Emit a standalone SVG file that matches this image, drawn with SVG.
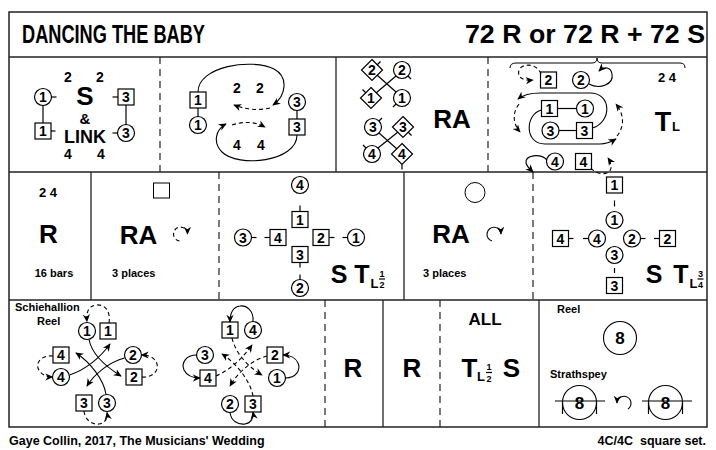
<svg xmlns="http://www.w3.org/2000/svg" width="716" height="450" viewBox="0 0 716 450">
<style>
.fr{fill:none;stroke:#222;stroke-width:1.5}
.dv{stroke:#222;stroke-width:1.3;fill:none}
.dd{stroke:#222;stroke-width:1.2;stroke-dasharray:7 5;fill:none}
.c,.s,.d{fill:#fff;stroke:#000;stroke-width:1.2}
.t{font-family:"Liberation Sans",Arial,Helvetica,sans-serif;font-weight:bold;fill:#000}
.n{font-size:14px;text-anchor:middle}
.m{text-anchor:middle}
.tk{stroke:#000;stroke-width:1.2}
.a{fill:none;stroke:#000;stroke-width:1.1;marker-end:url(#ah)}
.ad{fill:none;stroke:#000;stroke-width:1.1;stroke-dasharray:4 3;marker-end:url(#ah)}
.ln{stroke:#000;stroke-width:1.2}
</style>
<defs>
<marker id="ah" viewBox="0 0 10 10" refX="9" refY="5" markerWidth="8" markerHeight="8" markerUnits="userSpaceOnUse" orient="auto"><path d="M0,0.5 L10,5 L0,9.5 L3,5 z" fill="#000"/></marker>
</defs>
<rect width="716" height="450" fill="#fff"/>

<g id="frame">
<rect class="fr" x="9" y="12" width="698" height="415"/>
<line class="dv" x1="9" y1="57" x2="707" y2="57"/>
<line class="dv" x1="9" y1="172" x2="707" y2="172"/>
<line class="dv" x1="9" y1="300" x2="707" y2="300"/>
<line class="dd" x1="160" y1="57" x2="160" y2="172"/>
<line class="dv" x1="336" y1="57" x2="336" y2="172"/>
<line class="dd" x1="488" y1="57" x2="488" y2="172"/>
<line class="dv" x1="91" y1="172" x2="91" y2="300"/>
<line class="dd" x1="219" y1="172" x2="219" y2="300"/>
<line class="dv" x1="404" y1="172" x2="404" y2="300"/>
<line class="dd" x1="533" y1="172" x2="533" y2="300"/>
<line class="dd" x1="325" y1="300" x2="325" y2="427"/>
<line class="dv" x1="383" y1="300" x2="383" y2="427"/>
<line class="dd" x1="440" y1="300" x2="440" y2="427"/>
<line class="dv" x1="539" y1="300" x2="539" y2="427"/>
</g>

<g id="title">
<text class="t" x="22" y="43" font-size="25" textLength="183" lengthAdjust="spacingAndGlyphs">DANCING THE BABY</text>
<text class="t" x="705" y="43" font-size="25" text-anchor="end" textLength="240" lengthAdjust="spacingAndGlyphs">72 R or 72 R + 72 S</text>
</g>

<!-- ROW 1 PANEL A -->
<g id="p1a-labels">
<text class="t m" x="68" y="82" font-size="14">2</text>
<text class="t m" x="100" y="82" font-size="14">2</text>
<text class="t m" x="85" y="105" font-size="26">S</text>
<text class="t m" x="85" y="124" font-size="15">&amp;</text>
<text class="t m" x="85" y="143" font-size="18">LINK</text>
<text class="t m" x="68" y="159" font-size="14">4</text>
<text class="t m" x="101" y="159" font-size="14">4</text>
</g>
<g id="p1a-c1"><circle class="c" cx="43" cy="97" r="8.5"/><text class="t n" x="43" y="102">1</text><line class="tk" x1="51.5" y1="97" x2="56.5" y2="97"/></g>
<g id="p1a-s1"><rect class="s" x="35" y="123" width="16" height="16"/><text class="t n" x="43" y="136">1</text><line class="tk" x1="51" y1="131" x2="55.5" y2="131"/></g>
<g id="p1a-s3"><rect class="s" x="118" y="89" width="16" height="16"/><text class="t n" x="126" y="102">3</text><line class="tk" x1="112.5" y1="97" x2="118" y2="97"/></g>
<g id="p1a-c3"><circle class="c" cx="126" cy="133" r="8.5"/><text class="t n" x="126" y="138">3</text><line class="tk" x1="112.5" y1="133" x2="117.5" y2="133"/></g>

<!-- ROW 1 PANEL B -->
<g id="p1b-labels">
<text class="t m" x="237" y="93" font-size="14">2</text>
<text class="t m" x="260" y="93" font-size="14">2</text>
<text class="t m" x="237" y="150" font-size="14">4</text>
<text class="t m" x="261" y="150" font-size="14">4</text>
</g>
<g id="p1b-s1"><rect class="s" x="190" y="92" width="16" height="16"/><text class="t n" x="198" y="105">1</text></g>
<g id="p1b-c1"><circle class="c" cx="198" cy="125" r="8.5"/><text class="t n" x="198" y="130">1</text></g>
<g id="p1b-c3"><circle class="c" cx="297" cy="102" r="8.5"/><text class="t n" x="297" y="107">3</text></g>
<g id="p1b-s3"><rect class="s" x="289" y="119" width="16" height="16"/><text class="t n" x="297" y="132">3</text></g>

<!-- ROW 1 PANEL C -->
<g id="p1c-d2"><path class="d" d="M372,59.5 L382.5,70 L372,80.5 L361.5,70 Z"/><text class="t n" x="372" y="75">2</text><line class="tk" x1="377" y1="65" x2="380.5" y2="61.5"/></g>
<g id="p1c-c2"><circle class="c" cx="402" cy="70" r="8.5"/><text class="t n" x="402" y="75">2</text><line class="tk" x1="408" y1="76" x2="411" y2="79"/></g>
<g id="p1c-d1"><path class="d" d="M371,87.5 L381.5,98 L371,108.5 L360.5,98 Z"/><text class="t n" x="371" y="103">1</text><line class="tk" x1="366" y1="93" x2="362.5" y2="89.5"/></g>
<g id="p1c-c1"><circle class="c" cx="402" cy="98" r="8.5"/><text class="t n" x="402" y="103">1</text><line class="tk" x1="396" y1="104" x2="393" y2="107"/></g>
<g id="p1c-c3"><circle class="c" cx="373" cy="127" r="8.5"/><text class="t n" x="373" y="132">3</text><line class="tk" x1="379" y1="121" x2="382" y2="118"/></g>
<g id="p1c-d3"><path class="d" d="M403,116.5 L413.5,127 L403,137.5 L392.5,127 Z"/><text class="t n" x="403" y="132">3</text><line class="tk" x1="408" y1="132" x2="411.5" y2="135.5"/></g>
<g id="p1c-c4"><circle class="c" cx="372" cy="154" r="8.5"/><text class="t n" x="372" y="159">4</text><line class="tk" x1="366" y1="148" x2="363" y2="145"/></g>
<g id="p1c-d4"><path class="d" d="M402,143.5 L412.5,154 L402,164.5 L391.5,154 Z"/><text class="t n" x="402" y="159">4</text><line class="tk" x1="402" y1="164.5" x2="402" y2="169.5"/></g>
<g id="p1c-labels"><text class="t m" x="452" y="128" font-size="26">RA</text></g>

<!-- ROW 1 PANEL D -->
<g id="p1d-labels">
<path d="M510,68 Q510,63 516,63 L592,63 Q597,63 597,58 Q597,63 602,63 L680,63 Q685,63 685,68" fill="none" stroke="#000" stroke-width="1"/>
<text class="t m" x="667" y="82" font-size="13">2 4</text>
<text class="t m" x="663" y="131" font-size="27">T</text>
<text class="t" x="672" y="131" font-size="13">L</text>
</g>
<g id="p1d-s2"><rect class="s" x="540.5" y="72" width="16" height="16"/><text class="t n" x="548.5" y="85">2</text></g>
<g id="p1d-c2"><circle class="c" cx="581" cy="80" r="8.5"/><text class="t n" x="581" y="85">2</text></g>
<g id="p1d-s1"><rect class="s" x="541.5" y="100.5" width="16" height="16"/><text class="t n" x="549.5" y="113.5">1</text></g>
<g id="p1d-c1"><circle class="c" cx="585" cy="108.5" r="8.5"/><text class="t n" x="585" y="113.5">1</text></g>
<g id="p1d-c3"><circle class="c" cx="550.5" cy="130.5" r="8.5"/><text class="t n" x="550.5" y="135.5">3</text></g>
<g id="p1d-s3"><rect class="s" x="576.5" y="122.5" width="16" height="16"/><text class="t n" x="584.5" y="135.5">3</text></g>
<g id="p1d-c4"><circle class="c" cx="555" cy="161.5" r="8.5"/><text class="t n" x="555" y="166.5">4</text></g>
<g id="p1d-s4"><rect class="s" x="575.5" y="153.5" width="16" height="16"/><text class="t n" x="583.5" y="166.5">4</text></g>

<!-- ROW 2 PANEL 1 -->
<g id="p2a-labels">
<text class="t m" x="48" y="197" font-size="13">2 4</text>
<text class="t m" x="48.5" y="243" font-size="26">R</text>
<text class="t m" x="54" y="277" font-size="11">16 bars</text>
</g>
<!-- ROW 2 PANEL 2 -->
<g id="p2b-labels">
<rect x="153.5" y="183" width="16" height="15" fill="none" stroke="#000" stroke-width="1"/>
<text class="t m" x="138.5" y="244" font-size="26">RA</text>
<text class="t" x="112" y="277" font-size="11">3 places</text>
</g>
<!-- ROW 2 PANEL 3 -->
<g id="p2c-c4"><circle class="c" cx="300" cy="185" r="8.5"/><text class="t n" x="300" y="190">4</text></g>
<g id="p2c-s1"><rect class="s" x="292" y="211.5" width="16" height="16"/><text class="t n" x="300" y="224.5">1</text><line class="tk" x1="300" y1="205.5" x2="300" y2="211.5"/></g>
<g id="p2c-s4"><rect class="s" x="270" y="229.5" width="16" height="16"/><text class="t n" x="278" y="242.5">4</text><line class="tk" x1="264.5" y1="237.5" x2="270" y2="237.5"/></g>
<g id="p2c-s2"><rect class="s" x="313" y="229.5" width="16" height="16"/><text class="t n" x="321" y="242.5">2</text><line class="tk" x1="329" y1="237.5" x2="334.5" y2="237.5"/></g>
<g id="p2c-s3"><rect class="s" x="292" y="246.5" width="16" height="16"/><text class="t n" x="300" y="259.5">3</text><line class="tk" x1="300" y1="262.5" x2="300" y2="267.5"/></g>
<g id="p2c-c3"><circle class="c" cx="243" cy="237.5" r="8.5"/><text class="t n" x="243" y="242.5">3</text><line class="tk" x1="251.5" y1="237.5" x2="256.5" y2="237.5"/></g>
<g id="p2c-c1"><circle class="c" cx="356" cy="237.5" r="8.5"/><text class="t n" x="356" y="242.5">1</text><line class="tk" x1="342.5" y1="237.5" x2="347.5" y2="237.5"/></g>
<g id="p2c-c2"><circle class="c" cx="300" cy="288" r="8.5"/><text class="t n" x="300" y="293">2</text><line class="tk" x1="300" y1="274.5" x2="300" y2="279.5"/></g>
<g id="p2c-labels">
<text class="t m" x="339" y="283" font-size="25">S</text>
<text class="t m" x="362" y="283" font-size="25">T</text>
<text class="t" x="370.5" y="288" font-size="13">L</text>
<text class="t m" x="382" y="276.5" font-size="9">1</text>
<line class="ln" x1="379" y1="279" x2="385" y2="279" stroke-width="1"/>
<text class="t m" x="382" y="288" font-size="9">2</text>
</g>
<!-- ROW 2 PANEL 4 -->
<g id="p2d-labels">
<circle cx="475" cy="192.5" r="10" fill="none" stroke="#000" stroke-width="1"/>
<text class="t m" x="451" y="243" font-size="26">RA</text>
<text class="t" x="423" y="277" font-size="11">3 places</text>
</g>
<!-- ROW 2 PANEL 5 -->
<g id="p2e-s1"><rect class="s" x="606.5" y="177" width="16" height="16"/><text class="t n" x="614.5" y="190">1</text></g>
<g id="p2e-c1"><circle class="c" cx="614.5" cy="220" r="8.5"/><text class="t n" x="614.5" y="225">1</text><line class="tk" x1="614.5" y1="200.5" x2="614.5" y2="206.5"/></g>
<g id="p2e-s4"><rect class="s" x="552.5" y="230.5" width="16" height="16"/><text class="t n" x="560.5" y="243.5">4</text><line class="tk" x1="568.5" y1="238.5" x2="573.5" y2="238.5"/></g>
<g id="p2e-c4"><circle class="c" cx="597" cy="238.5" r="8.5"/><text class="t n" x="597" y="243.5">4</text><line class="tk" x1="583" y1="238.5" x2="588.5" y2="238.5"/></g>
<g id="p2e-c2"><circle class="c" cx="632" cy="238.5" r="8.5"/><text class="t n" x="632" y="243.5">2</text><line class="tk" x1="640.5" y1="238.5" x2="645.5" y2="238.5"/></g>
<g id="p2e-s2"><rect class="s" x="659.5" y="230.5" width="16" height="16"/><text class="t n" x="667.5" y="243.5">2</text><line class="tk" x1="654" y1="238.5" x2="659.5" y2="238.5"/></g>
<g id="p2e-c3"><circle class="c" cx="614.5" cy="255" r="8.5"/><text class="t n" x="614.5" y="260">3</text></g>
<g id="p2e-s3"><rect class="s" x="606.5" y="277.5" width="16" height="16"/><text class="t n" x="614.5" y="290.5">3</text><line class="tk" x1="614.5" y1="268" x2="614.5" y2="273"/></g>
<g id="p2e-labels">
<text class="t m" x="654" y="283" font-size="25">S</text>
<text class="t m" x="681" y="283" font-size="25">T</text>
<text class="t" x="689.5" y="288" font-size="13">L</text>
<text class="t m" x="700.5" y="276.5" font-size="9">3</text>
<line class="ln" x1="697.5" y1="279" x2="703.5" y2="279" stroke-width="1"/>
<text class="t m" x="700.5" y="288" font-size="9">4</text>
</g>

<!-- ROW 3 -->
<g id="p3a-labels">
<text class="t" x="15" y="311" font-size="11">Schiehallion</text>
<text class="t" x="37" y="325" font-size="11">Reel</text>
</g>
<g id="p3a-c1"><circle class="c" cx="87" cy="331" r="8.5"/><text class="t n" x="87" y="336">1</text></g>
<g id="p3a-s1"><rect class="s" x="100" y="323" width="16" height="16"/><text class="t n" x="108" y="336">1</text></g>
<g id="p3a-s4"><rect class="s" x="53" y="347" width="16" height="16"/><text class="t n" x="61" y="360">4</text></g>
<g id="p3a-c2"><circle class="c" cx="133" cy="355" r="8.5"/><text class="t n" x="133" y="360">2</text></g>
<g id="p3a-c4"><circle class="c" cx="61" cy="377" r="8.5"/><text class="t n" x="61" y="382">4</text></g>
<g id="p3a-s2"><rect class="s" x="126" y="369" width="16" height="16"/><text class="t n" x="134" y="382">2</text></g>
<g id="p3a-s3"><rect class="s" x="76" y="395" width="16" height="16"/><text class="t n" x="84" y="408">3</text></g>
<g id="p3a-c3"><circle class="c" cx="107" cy="403" r="8.5"/><text class="t n" x="107" y="408">3</text></g>

<g id="p3b-s1"><rect class="s" x="222" y="322" width="16" height="16"/><text class="t n" x="230" y="335">1</text></g>
<g id="p3b-c4"><circle class="c" cx="253" cy="330" r="8.5"/><text class="t n" x="253" y="335">4</text></g>
<g id="p3b-c3"><circle class="c" cx="205" cy="355" r="8.5"/><text class="t n" x="205" y="360">3</text></g>
<g id="p3b-s2"><rect class="s" x="267" y="347" width="16" height="16"/><text class="t n" x="275" y="360">2</text></g>
<g id="p3b-s4"><rect class="s" x="200" y="370" width="16" height="16"/><text class="t n" x="208" y="383">4</text></g>
<g id="p3b-c1"><circle class="c" cx="277" cy="378" r="8.5"/><text class="t n" x="277" y="383">1</text></g>
<g id="p3b-c2"><circle class="c" cx="230" cy="404" r="8.5"/><text class="t n" x="230" y="409">2</text></g>
<g id="p3b-s3"><rect class="s" x="245" y="396" width="16" height="16"/><text class="t n" x="253" y="409">3</text></g>

<g id="p3c-labels">
<text class="t m" x="353" y="377" font-size="26">R</text>
<text class="t m" x="412" y="377" font-size="26">R</text>
<text class="t m" x="485" y="325" font-size="17">ALL</text>
<text class="t m" x="469.5" y="377" font-size="26">T</text>
<text class="t" x="477" y="381" font-size="13">L</text>
<text class="t m" x="489" y="370" font-size="9">1</text>
<line class="ln" x1="486" y1="372.5" x2="492" y2="372.5" stroke-width="1"/>
<text class="t m" x="489" y="382" font-size="9">2</text>
<text class="t m" x="511.5" y="377" font-size="26">S</text>
</g>
<g id="p3d-reel">
<text class="t" x="557" y="313" font-size="11">Reel</text>
<circle cx="620" cy="338" r="16.5" fill="none" stroke="#000" stroke-width="1.1"/>
<text class="t m" x="620" y="344" font-size="17">8</text>
</g>
<g id="p3d-strathspey">
<text class="t" x="550" y="378" font-size="11">Strathspey</text>
<circle cx="579.5" cy="402.5" r="17" fill="none" stroke="#000" stroke-width="1.1"/>
<line class="ln" x1="555" y1="401" x2="605" y2="401" stroke-width="1.1"/>
<line class="ln" x1="562.5" y1="401" x2="562.5" y2="414" stroke-width="1.1"/>
<line class="ln" x1="596.5" y1="401" x2="596.5" y2="414" stroke-width="1.1"/>
<text class="t m" x="579.5" y="408.5" font-size="17">8</text>
<circle cx="665.5" cy="402.5" r="17" fill="none" stroke="#000" stroke-width="1.1"/>
<line class="ln" x1="642" y1="401" x2="692" y2="401" stroke-width="1.1"/>
<line class="ln" x1="648.5" y1="401" x2="648.5" y2="414" stroke-width="1.1"/>
<line class="ln" x1="682.5" y1="401" x2="682.5" y2="414" stroke-width="1.1"/>
<text class="t m" x="665.5" y="408.5" font-size="17">8</text>
</g>

<g id="footer">
<text class="t" x="9" y="445" font-size="12.5">Gaye Collin, 2017, The Musicians' Wedding</text>
<text class="t" x="706" y="445" font-size="12.5" text-anchor="end">4C/4C&#160; square set.</text>
</g>

<g id="connectors">
<line class="ln" x1="43" y1="105.5" x2="43" y2="123"/>
<line class="ln" x1="126" y1="105" x2="126" y2="124.5"/>
<line class="ln" x1="198" y1="108" x2="198" y2="116.5"/>
<line class="ln" x1="297" y1="110.5" x2="297" y2="119"/>
<path class="a" d="M198,92 C198,66 252,58 274,69 C289,77 286,96 273,105"/>
<path class="ad" d="M270,108 Q252,112 234,105"/>
<path class="ad" d="M232,125 Q250,119 265,127"/>
<path class="a" d="M297,135 C297,162 238,168 222,152 C213,143 215,130 226,124"/>
<line class="ln" x1="377" y1="75" x2="396" y2="92"/>
<line class="ln" x1="396" y1="76" x2="376" y2="93"/>
<line class="ln" x1="379" y1="133" x2="397" y2="149"/>
<line class="ln" x1="398" y1="132" x2="378" y2="148"/>
<line class="ln" x1="557.5" y1="108.5" x2="576.5" y2="108.5"/>
<line class="ln" x1="559" y1="130.5" x2="576.5" y2="130.5"/>
<path class="ad" d="M541,74 C537,63 522,63 519,70 C517,77 522,81 533,80"/>
<path class="a" d="M589,84 C600,90 614,84 612,74 C611,67 604,66 599,71"/>
<path class="a" d="M592.5,128 C612,122 612,93 590,93 L540,93 C530,93 523,95 518,99"/>
<path class="ad" d="M519,104 C512,113 513,124 520,132"/>
<path class="a" d="M541.5,110 C525,114 524,144 545,144 L600,144 C606,144 611,142 616,139"/>
<path class="ad" d="M617,136 C625,126 624,114 616,104"/>
<path class="a" d="M547,160 C540,153 525,155 526,163 C527,167 530,169 533,172"/>
<path class="ad" d="M591,168 C596,175 610,176 611,168 C611,164 610,161 608,158"/>
<path class="ad" d="M179.5,241 A7,7 0 1 1 187.5,234"/>
<path class="a" d="M492,241 A7,7 0 1 1 501,234"/>
<path class="a" d="M628,409 A7,7 0 1 0 617,403"/>
<path class="a" d="M89,339.5 C92,355 108,368 121,376"/>
<path class="a" d="M69.5,375 C85,370 100,358 110,344"/>
<path class="a" d="M124.5,358 C110,362 95,373 87,386"/>
<path class="a" d="M106,394.5 C104,380 90,362 76,353"/>
<path class="ad" d="M109,323 C111,310 104,304 96,305 C89,306 86,311 87,321.5"/>
<path class="ad" d="M53,356 C43,355 36,361 38,368 C40,374 46,377 52.5,377"/>
<path class="ad" d="M142,377 C152,378 159,371 157,364 C155,358 150,355 141.5,355"/>
<path class="ad" d="M84,411 C85,420 92,425 99,424 C105,423 108,418 107,412.5"/>
<path class="a" d="M253,321.5 C254,310 246,305 240,306 C233,307 230,313 230,322"/>
<path class="a" d="M196.5,355 C186,355 181,363 184,370 C187,376 193,378 200,378"/>
<path class="a" d="M285.5,378 C296,378 301,370 298,363 C296,358 290,355 283,355"/>
<path class="a" d="M230,412.5 C231,421 238,425 245,424 C251,423 254,418 253,412"/>
<path class="ad" d="M232,338 C236,355 250,368 262,375"/>
<path class="ad" d="M216,376 C230,370 243,358 252,345"/>
<path class="ad" d="M267,356 C252,360 238,372 230,386"/>
<path class="ad" d="M253,396 C250,380 236,363 222,354"/>
</g>
</svg>
